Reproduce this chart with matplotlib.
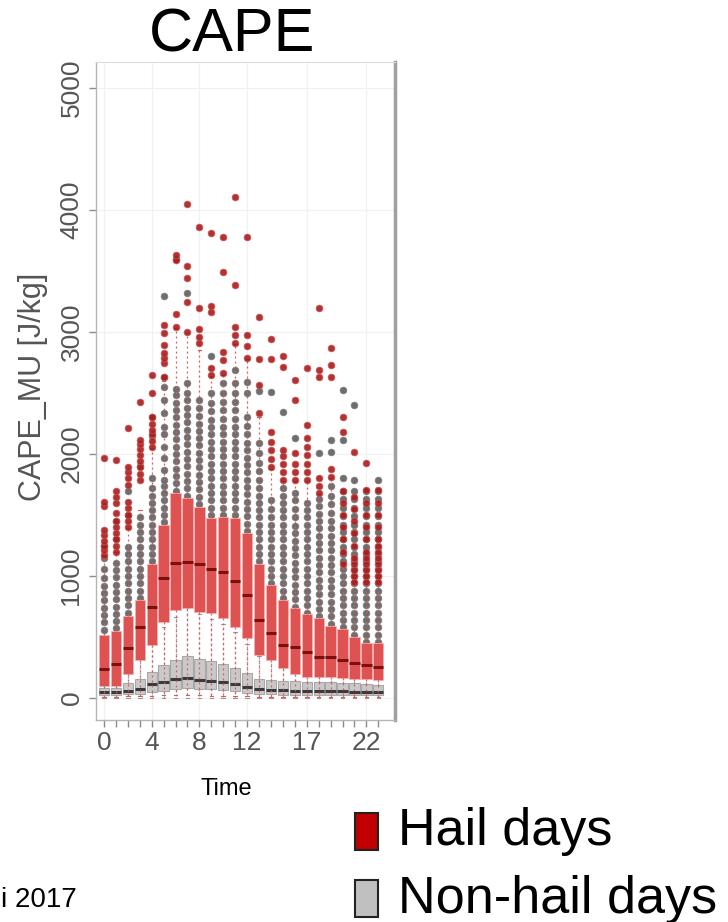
import matplotlib
matplotlib.use('Agg')
import matplotlib.pyplot as plt
from matplotlib.patches import Rectangle

plt.rcParams['font.family'] = ['Liberation Sans', 'DejaVu Sans']

# ---------------- data ----------------
hours = list(range(24))
xtick_pos = [0, 4, 8, 12, 17, 22]
xtick_labels = ['0', '4', '8', '12', '17', '22']
ytick_pos = [0, 1000, 2000, 3000, 4000, 5000]
ytick_labels = ['0', '1000', '2000', '3000', '4000', '5000']

# Hail days (red)
hail_q1 = [100, 100, 197, 311, 434, 626, 721, 735, 708, 694, 653, 585,
           489, 352, 311, 243, 197, 175, 175, 175, 161, 153, 153, 148]
hail_med = [238, 276, 407, 585, 749, 986, 1109, 1117, 1095, 1054, 1035, 962,
            844, 639, 530, 434, 415, 380, 339, 339, 311, 284, 270, 257]
hail_q3 = [520, 549, 675, 803, 1098, 1418, 1683, 1639, 1568, 1473, 1481, 1475,
           1350, 1098, 926, 803, 735, 685, 653, 590, 563, 503, 448, 448]
hail_lo = [10, 10, 15, 15, 20, 25, 25, 25, 25, 20, 20, 15,
           15, 10, 10, 10, 10, 10, 10, 10, 10, 10, 10, 10]
hail_hi = [1150, 1200, 1390, 1540, 2050, 2600, 3030, 2990, 2850, 2640, 2650, 2900,
           2780, 2300, 1880, 1780, 1780, 1780, 1670, 1800, 1090, 940, 940, 940]
hail_out = [
    [1170, 1210, 1250, 1290, 1340, 1380, 1570, 1610, 1967],
    [1200, 1250, 1300, 1350, 1400, 1450, 1520, 1600, 1650, 1700, 1951],
    [1400, 1450, 1500, 1560, 1610, 1750, 1800, 1850, 1890, 2213],
    [1790, 1840, 1890, 1940, 1990, 2040, 2080, 2115, 2426],
    [2060, 2110, 2160, 2200, 2250, 2300, 2500, 2648],
    [2631, 2746, 2790, 2828, 2893, 2992, 3057],
    [3041, 3148, 3590, 3631],
    [3000, 3246, 3443, 3541, 4049],
    [2910, 2960, 3025, 3197, 3861],
    [2648, 2705, 3164, 3213, 3811],
    [2664, 2770, 2836, 3492, 3779],
    [2910, 2975, 3041, 3385, 4107],
    [2787, 2885, 2975, 3779],
    [2336, 2566, 2779, 3123],
    [1893, 1960, 2030, 2098, 2180, 2779, 2943],
    [1787, 1850, 1920, 1980, 2033, 2713, 2803],
    [1787, 1850, 1920, 2008, 2443, 2607],
    [1787, 1850, 1920, 1990, 2060, 2130, 2238, 2705],
    [1680, 1740, 1800, 2631, 2690, 3197],
    [1811, 1880, 2631, 2730, 2869],
    [1100, 1200, 1300, 1400, 1500, 1600, 1700, 2180, 2303],
    [950, 1000, 1050, 1100, 1150, 1250, 1350, 1450, 1550, 1650, 2016],
    [950, 1000, 1050, 1100, 1150, 1200, 1300, 1400, 1500, 1600, 1705, 1926],
    [950, 1000, 1050, 1100, 1150, 1200, 1250, 1300, 1400, 1500, 1600, 1705],
]

# Non-hail days (grey)
nh_q1 = [25, 25, 30, 35, 50, 60, 75, 80, 75, 70, 65, 55,
         45, 35, 30, 28, 28, 25, 25, 25, 25, 25, 25, 25]
nh_med = [47, 50, 55, 75, 112, 135, 156, 161, 150, 140, 130, 115,
          93, 70, 66, 62, 60, 58, 56, 55, 55, 52, 50, 48]
nh_q3 = [79, 85, 120, 160, 216, 270, 311, 344, 320, 300, 280, 250,
         202, 160, 148, 140, 140, 135, 130, 128, 125, 120, 115, 110]
nh_lo = [0, 0, 0, 0, 0, 0, 0, 0, 0, 0, 0, 0,
         0, 0, 0, 0, 0, 0, 0, 0, 0, 0, 0, 0]
nh_hi = [160, 175, 255, 350, 460, 585, 665, 740, 690, 650, 605, 540,
         440, 345, 325, 310, 310, 300, 290, 285, 275, 265, 250, 240]
nh_out = [
    [560, 620, 680, 740, 800, 860, 920, 980, 1060, 1150, 1250],
    [570, 630, 690, 750, 810, 870, 930, 990, 1050, 1110, 1300, 1450],
    [700, 760, 820, 880, 940, 1000, 1060, 1120, 1180, 1240, 1500, 1700],
    [820, 880, 940, 1000, 1060, 1120, 1180, 1240, 1300, 1360, 1420, 1480, 1900],
    [1120, 1180, 1240, 1300, 1360, 1420, 1480, 1540, 1600, 1660, 1720, 1800, 2150, 2300],
    [1440, 1500, 1560, 1620, 1680, 1740, 1790, 1870, 1970, 2060, 2160, 2220, 2340,
     2440, 2550, 2630, 3295],
    [1700, 1760, 1820, 1880, 1940, 2000, 2060, 2120, 2180, 2240, 2300, 2360, 2420,
     2480, 2530, 3600],
    [1660, 1720, 1780, 1840, 1900, 1960, 2020, 2080, 2140, 2200, 2260, 2320, 2380,
     2440, 2500, 2580, 3320],
    [1590, 1650, 1710, 1770, 1830, 1890, 1950, 2010, 2070, 2130, 2190, 2250, 2310,
     2380, 2440],
    [1500, 1560, 1620, 1680, 1740, 1800, 1860, 1920, 1980, 2040, 2100, 2160, 2220,
     2280, 2350, 2420, 2500, 2800],
    [1500, 1560, 1620, 1680, 1740, 1800, 1860, 1920, 1980, 2040, 2100, 2160, 2220,
     2290, 2360, 2430, 2500, 2580],
    [1500, 1560, 1620, 1680, 1740, 1800, 1860, 1920, 1980, 2040, 2100, 2160, 2220,
     2290, 2360, 2430, 2500, 2580, 2690],
    [1370, 1430, 1490, 1550, 1610, 1670, 1730, 1790, 1850, 1910, 1970, 2030, 2090,
     2160, 2230, 2300, 2500, 2590],
    [1120, 1180, 1240, 1300, 1360, 1420, 1480, 1540, 1600, 1660, 1720, 1790, 1860,
     1930, 2010, 2090, 2520],
    [940, 1000, 1060, 1120, 1180, 1240, 1300, 1360, 1420, 1480, 1550, 1620, 2508],
    [820, 880, 940, 1000, 1060, 1120, 1180, 1240, 1300, 1360, 1420, 1480, 1540,
     1600, 1660, 1720, 2344],
    [750, 810, 870, 930, 990, 1050, 1110, 1170, 1230, 1290, 1350, 1410, 1480,
     1550, 1620, 1680, 2131],
    [700, 760, 820, 880, 940, 1000, 1060, 1120, 1180, 1240, 1300, 1360, 1420,
     1480, 1540, 1600],
    [670, 730, 790, 850, 910, 970, 1030, 1090, 1150, 1210, 1270, 1330, 1390,
     1450, 1510, 1570, 1630, 2008],
    [610, 670, 730, 790, 850, 910, 970, 1030, 1090, 1150, 1210, 1270, 1330,
     1390, 1450, 1520, 1590, 1660, 1740, 2016, 2115],
    [580, 640, 700, 760, 820, 880, 940, 1000, 1060, 1120, 1180, 1240, 1300,
     1360, 1420, 1490, 1560, 1630, 1700, 1800, 2115, 2525],
    [520, 580, 640, 700, 760, 820, 880, 940, 1000, 1060, 1120, 1180, 1240,
     1300, 1360, 1420, 1490, 1560, 1630, 1700, 1787, 2402],
    [460, 520, 580, 640, 700, 760, 820, 880, 940, 1000, 1060, 1120, 1180,
     1240, 1300, 1360, 1420, 1490, 1560, 1630, 1700],
    [460, 520, 580, 640, 700, 760, 820, 880, 940, 1000, 1060, 1120, 1180,
     1240, 1300, 1360, 1420, 1490, 1560, 1630, 1700, 1787],
]

legend_labels = ['Hail days', 'Non-hail days']
legend_colors = ['#c00000', '#c0c0c0']

# ---------------- figure ----------------
W, H = 728, 922
fig = plt.figure(figsize=(W / 100, H / 100), dpi=100)
ax = fig.add_axes([96 / W, 1 - 720 / H, (395 - 96) / W, (720 - 62) / H])


def build(q1, med, q3, lo, hi, out):
    return [dict(q1=q1[i], med=med[i], q3=q3[i], whislo=lo[i], whishi=hi[i],
                 fliers=out[i]) for i in range(len(q1))]


nh_stats = build(nh_q1, nh_med, nh_q3, nh_lo, nh_hi, nh_out)
hail_stats = build(hail_q1, hail_med, hail_q3, hail_lo, hail_hi, hail_out)

ax.bxp(nh_stats, positions=hours, widths=0.86, patch_artist=True,
       manage_ticks=False, zorder=2,
       boxprops=dict(facecolor='#c9c9c9', edgecolor='#a8a8a8', linewidth=0.8),
       medianprops=dict(color='#3a3a3a', linewidth=2.2),
       whiskerprops=dict(color='#9a9a9a', linewidth=0.9, linestyle=(0, (1.5, 2.5))),
       capprops=dict(color='#9a9a9a', linewidth=0.8), capwidths=0.3,
       flierprops=dict(marker='o', markersize=4.8, markerfacecolor='#555555',
                       markeredgecolor='#7a7a7a', markeredgewidth=0.6, alpha=0.85))

ax.bxp(hail_stats, positions=hours, widths=0.86, patch_artist=True,
       manage_ticks=False, zorder=3,
       boxprops=dict(facecolor='#de5252', edgecolor='#f3b0b0', linewidth=0.6),
       medianprops=dict(color='#7d0f0f', linewidth=2.2),
       whiskerprops=dict(color='#d85a5a', linewidth=0.9, linestyle=(0, (1.5, 2.5))),
       capprops=dict(color='#d85a5a', linewidth=0.8), capwidths=0.3,
       flierprops=dict(marker='o', markersize=4.8, markerfacecolor='#a81c1c',
                       markeredgecolor='#cc5050', markeredgewidth=0.6, alpha=0.9))

ax.set_xlim(-0.67, 24.4)
ax.set_ylim(-180, 5213)

ax.set_yticks(ytick_pos)
ax.set_yticklabels(ytick_labels, rotation=90, va='center')
ax.set_xticks(xtick_pos)
ax.set_xticklabels(xtick_labels)
ax.set_xticks(hours, minor=True)
ax.tick_params(axis='both', which='both', direction='out', length=5,
               color='#8c8c8c', width=1.0, labelcolor='#555555', labelsize=19)
ax.tick_params(axis='x', which='major', pad=3)
ax.tick_params(axis='y', which='major', pad=4)

ax.grid(True, which='major', color='#f1f1f1', linewidth=0.9, zorder=0)
ax.set_axisbelow(True)

for side in ['left', 'bottom']:
    ax.spines[side].set_color('#b5b5b5')
    ax.spines[side].set_linewidth(1.0)
ax.spines['top'].set_color('#dcdcdc')
ax.spines['top'].set_linewidth(0.8)
ax.spines['right'].set_color('#a0a0a0')
ax.spines['right'].set_linewidth(2.5)

# titles / labels
fig.text(232 / W, 1 - 36 / H, 'CAPE', ha='center', va='center', fontsize=44,
         color='black')
fig.text(33 / W, 1 - 387 / H, 'CAPE_MU [J/kg]', ha='center', va='center',
         rotation=90, fontsize=22, color='#555555')
fig.text(226 / W, 1 - 789 / H, 'Time', ha='center', va='center', fontsize=17,
         color='black')
fig.text(1 / W, 1 - 900 / H, 'i 2017', ha='left', va='center', fontsize=20,
         color='black')

# legend
sq_y = [813, 880]
for lab, col, y0 in zip(legend_labels, legend_colors, sq_y):
    fig.patches.append(Rectangle((355 / W, 1 - (y0 + 37) / H), 23 / W, 37 / H,
                                 transform=fig.transFigure, facecolor=col,
                                 edgecolor='#222222', linewidth=1.5))
    fig.text(398 / W, 1 - (y0 + 19) / H, lab, ha='left', va='center',
             fontsize=37.5, color='black')

fig.savefig('out.png', dpi=100)
